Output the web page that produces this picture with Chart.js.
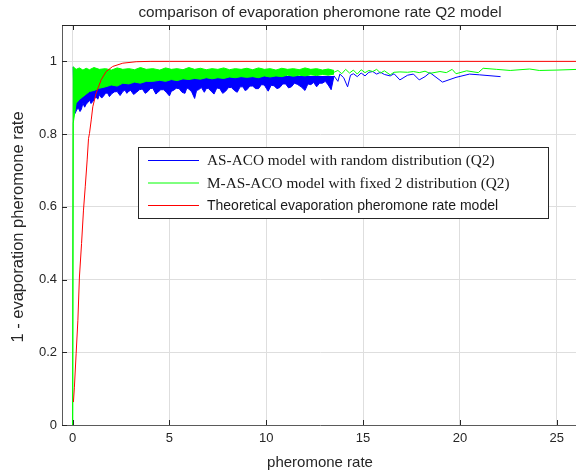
<!DOCTYPE html>
<html>
<head>
<meta charset="utf-8">
<script src="https://cdn.jsdelivr.net/npm/chart.js@4.4.0/dist/chart.umd.min.js"></script>
<style>
html, body { margin: 0; padding: 0; background: #fff; overflow: hidden; }
canvas { display: block; }
</style>
</head>
<body>
<canvas id="chart" width="580" height="473"></canvas>
<script>
const titleText = "comparison of evaporation pheromone rate Q2 model";
const xTitle = "pheromone rate";
const yTitle = "1 - evaporation pheromone rate";
const legendLabels = [
    "AS-ACO model with random distribution (Q2)",
    "M-AS-ACO model with fixed 2 distribution (Q2)",
    "Theoretical evaporation pheromone rate model"
];
const xTicks = [0, 5, 10, 15, 20, 25];
const yTicks = [0, 0.2, 0.4, 0.6, 0.8, 1];

// theoretical curve
const redX = [0.04, 0.09, 0.18, 0.27, 0.35, 0.46, 0.56, 0.65, 0.75, 0.82, 0.87,
    0.96, 1.04, 1.21, 1.47, 1.73, 2.07, 2.59, 3.28, 4.0, 5.0, 26.1];
const redY = [0.063, 0.104, 0.196, 0.288, 0.407, 0.499, 0.591, 0.655, 0.729, 0.788, 0.802,
    0.839, 0.875, 0.912, 0.949, 0.972, 0.986, 0.995, 0.999, 1, 1, 1];

// M-AS-ACO: dense part (upper / lower edge) and sparse tail
const greenBandX = [0, 0.03, 0.18, 0.35, 0.53, 0.7, 0.87, 1.1, 1.38, 1.7,
    2.0, 2.3, 2.59, 2.9, 3.2, 3.5, 3.8, 4.14, 4.5, 4.8,
    5.1, 5.4, 5.7, 6.0, 6.3, 6.6, 6.9, 7.2, 7.5, 7.8,
    8.1, 8.4, 8.7, 9.0, 9.3, 9.6, 9.9, 10.2, 10.5, 10.8,
    11.1, 11.4, 11.7, 12.0, 12.3, 12.6, 12.9, 13.2, 13.5];
const greenBandLow = [0, 0.83, 0.885, 0.895, 0.903, 0.91, 0.917, 0.92, 0.926, 0.93,
    0.935, 0.932, 0.94, 0.938, 0.943, 0.94, 0.945, 0.945, 0.948, 0.945,
    0.95, 0.947, 0.952, 0.95, 0.953, 0.951, 0.955, 0.952, 0.955, 0.953,
    0.957, 0.955, 0.958, 0.956, 0.958, 0.955, 0.96, 0.957, 0.96, 0.958,
    0.962, 0.959, 0.962, 0.96, 0.963, 0.961, 0.964, 0.962, 0.965];
const greenBandHigh = [0, 0.985, 0.978, 0.982, 0.976, 0.981, 0.977, 0.983, 0.978, 0.98,
    0.976, 0.982, 0.978, 0.98, 0.977, 0.983, 0.978, 0.98, 0.976, 0.982,
    0.978, 0.98, 0.977, 0.983, 0.978, 0.981, 0.977, 0.98, 0.978, 0.982,
    0.977, 0.98, 0.978, 0.981, 0.977, 0.982, 0.978, 0.98, 0.976, 0.981,
    0.978, 0.98, 0.977, 0.982, 0.978, 0.98, 0.976, 0.979, 0.975];
const greenTailX = [13.5, 13.7, 13.9, 14.1, 14.3, 14.5, 14.7, 14.9, 15.1, 15.3,
    15.5, 15.7, 15.9, 16.1, 16.4, 16.6, 16.9, 17.3, 17.6, 17.9,
    18.2, 18.45, 18.97, 19.3, 19.6, 19.8, 20.35, 20.95, 21.2, 21.9,
    22.6, 23.6, 24.1, 25, 26.1];
const greenTailY = [0.97, 0.975, 0.966, 0.978, 0.968, 0.976, 0.965, 0.977, 0.969, 0.975,
    0.972, 0.978, 0.968, 0.974, 0.963, 0.97, 0.971, 0.97, 0.972, 0.969,
    0.973, 0.967, 0.972, 0.969, 0.978, 0.966, 0.974, 0.969, 0.981, 0.978,
    0.975, 0.979, 0.975, 0.976, 0.978];

// AS-ACO: lower edge of the dense part, then sparse tail
const blueBandX = [0.03, 0.08, 0.13, 0.22, 0.3, 0.38, 0.45, 0.53, 0.62, 0.7,
    0.8, 0.87, 0.95, 1.05, 1.2, 1.3, 1.38, 1.5, 1.6, 1.7,
    1.8, 1.9, 2.0, 2.15, 2.3, 2.45, 2.59, 2.7, 2.8, 2.9,
    3.0, 3.15, 3.3, 3.45, 3.6, 3.75, 3.9, 4.0, 4.14, 4.3,
    4.4, 4.55, 4.7, 4.85, 5.0, 5.1, 5.2, 5.35, 5.5, 5.65,
    5.8, 5.9, 6.0, 6.15, 6.3, 6.4, 6.5, 6.65, 6.8, 6.9,
    7.0, 7.15, 7.3, 7.45, 7.6, 7.75, 7.9, 8.05, 8.2, 8.35,
    8.5, 8.65, 8.8, 8.9, 9.0, 9.15, 9.3, 9.45, 9.6, 9.75,
    9.9, 10.0, 10.1, 10.25, 10.4, 10.55, 10.7, 10.85, 11.0, 11.15,
    11.3, 11.45, 11.6, 11.8, 12.0, 12.15, 12.3, 12.45, 12.6, 12.75,
    12.9, 13.05, 13.2, 13.35, 13.5];
const blueBandLow = [0.985, 0.86, 0.857, 0.868, 0.871, 0.862, 0.868, 0.885, 0.874, 0.882,
    0.888, 0.894, 0.884, 0.89, 0.903, 0.896, 0.908, 0.899, 0.905, 0.912,
    0.913, 0.903, 0.91, 0.916, 0.917, 0.906, 0.917, 0.921, 0.912, 0.918,
    0.92, 0.909, 0.915, 0.922, 0.924, 0.912, 0.918, 0.925, 0.926, 0.91,
    0.915, 0.922, 0.922, 0.914, 0.905, 0.918, 0.92, 0.926, 0.925, 0.915,
    0.912, 0.927, 0.924, 0.916, 0.898, 0.92, 0.922, 0.928, 0.915, 0.925,
    0.926, 0.918, 0.91, 0.927, 0.925, 0.912, 0.918, 0.928, 0.928, 0.92,
    0.915, 0.93, 0.93, 0.92, 0.922, 0.932, 0.932, 0.925, 0.925, 0.936,
    0.935, 0.926, 0.918, 0.934, 0.933, 0.925, 0.928, 0.938, 0.938, 0.927,
    0.93, 0.94, 0.937, 0.93, 0.92, 0.938, 0.936, 0.942, 0.93, 0.94,
    0.94, 0.945, 0.935, 0.922, 0.96];
const blueTailX = [13.5, 13.7, 13.8, 14.0, 14.2, 14.35, 14.5, 14.7, 14.9, 15.1,
    15.3, 15.5, 15.7, 15.9, 16.1, 16.4, 16.6, 16.9, 17.3, 17.6,
    17.9, 18.2, 18.45, 19.1, 19.8, 20.5, 21.0, 22.1];
const blueTailY = [0.96, 0.945, 0.965, 0.955, 0.93, 0.962, 0.966, 0.958, 0.968, 0.96,
    0.97, 0.972, 0.965, 0.97, 0.964, 0.96, 0.966, 0.949, 0.962, 0.965,
    0.949, 0.958, 0.969, 0.943, 0.956, 0.965, 0.963, 0.958];

const BLUE = "#0000ff";
const GREEN = "#00ff00";
const RED = "#ff0000";
const INK = "#262626";
const SANS = '"Liberation Sans", Arial, sans-serif';
const SERIF = '"Liberation Serif", "Times New Roman", serif';

function points(xs, ys) {
    return xs.map((x, i) => ({ x: x, y: ys[i] }));
}

function line(data, color, fill) {
    return {
        data: data,
        borderColor: color,
        backgroundColor: color,
        borderWidth: 1,
        pointRadius: 0,
        tension: 0,
        fill: fill ?? false,
    };
}

// MATLAB-like frame: title, axis labels, inner ticks and legend box
const frame = {
    id: "frame",
    afterDraw(chart) {
        const { ctx, chartArea: a, scales } = chart;
        ctx.save();
        ctx.strokeStyle = INK;
        ctx.lineWidth = 1;
        ctx.beginPath();
        ctx.moveTo(a.left, a.top + 0.5);
        ctx.lineTo(a.right, a.top + 0.5);
        xTicks.forEach(v => {
            const px = Math.round(scales.x.getPixelForValue(v)) + 0.5;
            ctx.moveTo(px, a.bottom);
            ctx.lineTo(px, a.bottom - 5);
            ctx.moveTo(px, a.top);
            ctx.lineTo(px, a.top + 5);
        });
        yTicks.forEach(v => {
            const py = Math.round(scales.y.getPixelForValue(v)) + 0.5;
            ctx.moveTo(a.left, py);
            ctx.lineTo(a.left + 5, py);
        });
        ctx.stroke();

        const cx = (a.left + a.right) / 2;
        ctx.fillStyle = INK;
        ctx.textAlign = "center";
        ctx.textBaseline = "middle";
        ctx.font = "15.3px " + SANS;
        ctx.fillText(titleText, cx, 12.5);
        ctx.font = "15px " + SANS;
        ctx.fillText(xTitle, cx, 463);
        ctx.save();
        ctx.translate(18, (a.top + a.bottom) / 2 + 2);
        ctx.rotate(-Math.PI / 2);
        ctx.font = "16.5px " + SANS;
        ctx.fillText(yTitle, 0, 0);
        ctx.restore();

        // legend
        ctx.fillStyle = "#fff";
        ctx.fillRect(138.5, 147.5, 410, 71);
        ctx.strokeStyle = INK;
        ctx.strokeRect(138.5, 147.5, 410, 71);
        const colors = [BLUE, GREEN, RED];
        const rows = [160.5, 183, 205.5];
        const fonts = ["15.3px " + SERIF, "15.3px " + SERIF, "14px " + SANS];
        ctx.textAlign = "left";
        legendLabels.forEach((label, i) => {
            ctx.strokeStyle = colors[i];
            ctx.beginPath();
            ctx.moveTo(148, rows[i]);
            ctx.lineTo(199, rows[i]);
            ctx.stroke();
            ctx.fillStyle = "#1a1a1a";
            ctx.font = fonts[i];
            ctx.fillText(label, 207, rows[i] + 0.5);
        });
        ctx.restore();
    }
};

new Chart(document.getElementById("chart"), {
    type: "line",
    data: {
        datasets: [
            line(points(redX, redY), RED),
            line(points(greenBandX, greenBandHigh), GREEN, "+1"),
            line(points(greenBandX, greenBandLow), GREEN),
            line(points(greenTailX, greenTailY), GREEN),
            line(points(blueBandX, blueBandLow), BLUE, { value: 0.96 }),
            line(points(blueTailX, blueTailY), BLUE),
        ]
    },
    options: {
        responsive: false,
        animation: false,
        devicePixelRatio: 1,
        layout: { padding: { top: 25, right: 2, left: 0, bottom: 0 } },
        plugins: {
            legend: { display: false },
            title: { display: false },
            tooltip: { enabled: false },
        },
        scales: {
            x: {
                type: "linear",
                min: -0.55,
                max: 26.1,
                afterBuildTicks: scale => { scale.ticks = xTicks.map(v => ({ value: v })); },
                afterFit: scale => { scale.height = 48; },
                grid: { color: "#dedede", drawTicks: false },
                border: { color: "#5a5a5a", width: 1 },
                ticks: { color: INK, padding: 6, font: { family: SANS, size: 13 }, maxRotation: 0 },
            },
            y: {
                type: "linear",
                min: 0,
                max: 1.1,
                afterBuildTicks: scale => { scale.ticks = yTicks.map(v => ({ value: v })); },
                afterFit: scale => { scale.width = 62; },
                grid: { color: "#dedede", drawTicks: false },
                border: { color: "#5a5a5a", width: 1 },
                ticks: {
                    color: INK,
                    padding: 5,
                    font: { family: SANS, size: 13 },
                    callback: value => String(Math.round(value * 10) / 10),
                },
            }
        }
    },
    plugins: [frame]
});
</script>
</body>
</html>
